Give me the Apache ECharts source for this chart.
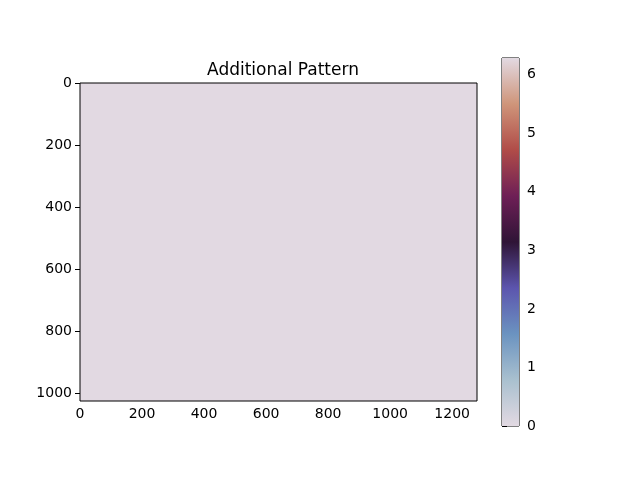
<!DOCTYPE html>
<html>
<head>
<meta charset="utf-8">
<script src="https://cdn.jsdelivr.net/npm/echarts@6/dist/echarts.min.js"></script>
<style>
html, body { margin: 0; padding: 0; background: #fff; }
#main { width: 640px; height: 480px; }
</style>
</head>
<body>
<div id="main"></div>
<script>
// image: 1280 x 1024, one constant value everywhere
var imgWidth = 1280;
var imgHeight = 1024;
var fieldValue = 0;
var cbMin = 0;
var cbMax = 2 * Math.PI;
// twilight colormap, evenly spaced stops
var twilight = ['#e2d9e2', '#a9c0cf', '#6b93c0', '#5c55ae', '#2f1436', '#6e1f56', '#b04c48', '#cf957a', '#e2d9e2'];

var myChart = echarts.init(document.getElementById('main'));

var fieldData = [[0, imgWidth, 0, imgHeight, fieldValue]];

function plain(v) {
    return String(v);
}

var tickFont = { color: '#000', fontFamily: 'DejaVu Sans', fontSize: 14 };

var option = {
    backgroundColor: '#ffffff',
    animation: false,
    title: {
        text: 'Additional Pattern',
        left: 278,
        textAlign: 'center',
        top: 57,
        textStyle: { fontFamily: 'DejaVu Sans', fontSize: 17, fontWeight: 'normal', color: '#000' }
    },
    visualMap: {
        show: false,
        type: 'continuous',
        min: cbMin,
        max: cbMax,
        dimension: 4,
        seriesIndex: 0,
        inRange: { color: twilight }
    },
    grid: [
        { left: 80, top: 83, width: 397, height: 318, show: true, borderColor: '#000', borderWidth: 1, backgroundColor: 'transparent', z: 5 },
        { left: 502, top: 58, width: 17, height: 368, show: true, borderColor: '#000', borderWidth: 1, backgroundColor: 'transparent' }
    ],
    xAxis: [
        {
            type: 'value', gridIndex: 0, min: 0, max: imgWidth, interval: 200,
            axisLine: { show: false },
            axisTick: { show: true, length: 5, lineStyle: { color: '#000' } },
            axisLabel: Object.assign({ margin: 6, showMaxLabel: false, formatter: plain }, tickFont),
            splitLine: { show: false }
        },
        { type: 'value', gridIndex: 1, min: 0, max: 1, show: false }
    ],
    yAxis: [
        {
            type: 'value', gridIndex: 0, min: 0, max: imgHeight, interval: 200, inverse: true,
            axisLine: { show: false },
            axisTick: { show: true, length: 5, lineStyle: { color: '#000' } },
            axisLabel: Object.assign({ margin: 8, showMaxLabel: false, formatter: plain }, tickFont),
            splitLine: { show: false }
        },
        {
            type: 'value', gridIndex: 1, min: cbMin, max: cbMax, interval: 1, position: 'right',
            axisLine: { show: false },
            axisTick: { show: true, length: 5, lineStyle: { color: '#000' } },
            axisLabel: Object.assign({ margin: 8, showMaxLabel: false, formatter: plain }, tickFont),
            splitLine: { show: false }
        }
    ],
    series: [
        {
            type: 'custom',
            xAxisIndex: 0,
            yAxisIndex: 0,
            clip: true,
            data: fieldData,
            encode: { x: [0, 1], y: [2, 3] },
            renderItem: function (params, api) {
                var p0 = api.coord([api.value(0), api.value(2)]);
                var p1 = api.coord([api.value(1), api.value(3)]);
                return {
                    type: 'rect',
                    shape: { x: p0[0], y: p0[1], width: p1[0] - p0[0], height: p1[1] - p0[1] },
                    style: { fill: api.visual('color') }
                };
            }
        },
        {
            type: 'custom',
            xAxisIndex: 1,
            yAxisIndex: 1,
            data: [[0, 1, cbMin, cbMax]],
            encode: { x: [0, 1], y: [2, 3] },
            renderItem: function (params, api) {
                var p0 = api.coord([api.value(0), api.value(3)]);
                var p1 = api.coord([api.value(1), api.value(2)]);
                // top of the bar is the max colour, bottom is the min colour
                var stops = twilight.map(function (c, i) {
                    return { offset: 1 - i / (twilight.length - 1), color: c };
                }).reverse();
                return {
                    type: 'rect',
                    shape: { x: p0[0], y: p0[1], width: p1[0] - p0[0], height: p1[1] - p0[1] },
                    style: { fill: new echarts.graphic.LinearGradient(0, 0, 0, 1, stops) }
                };
            }
        }
    ]
};

myChart.setOption(option);
</script>
</body>
</html>
